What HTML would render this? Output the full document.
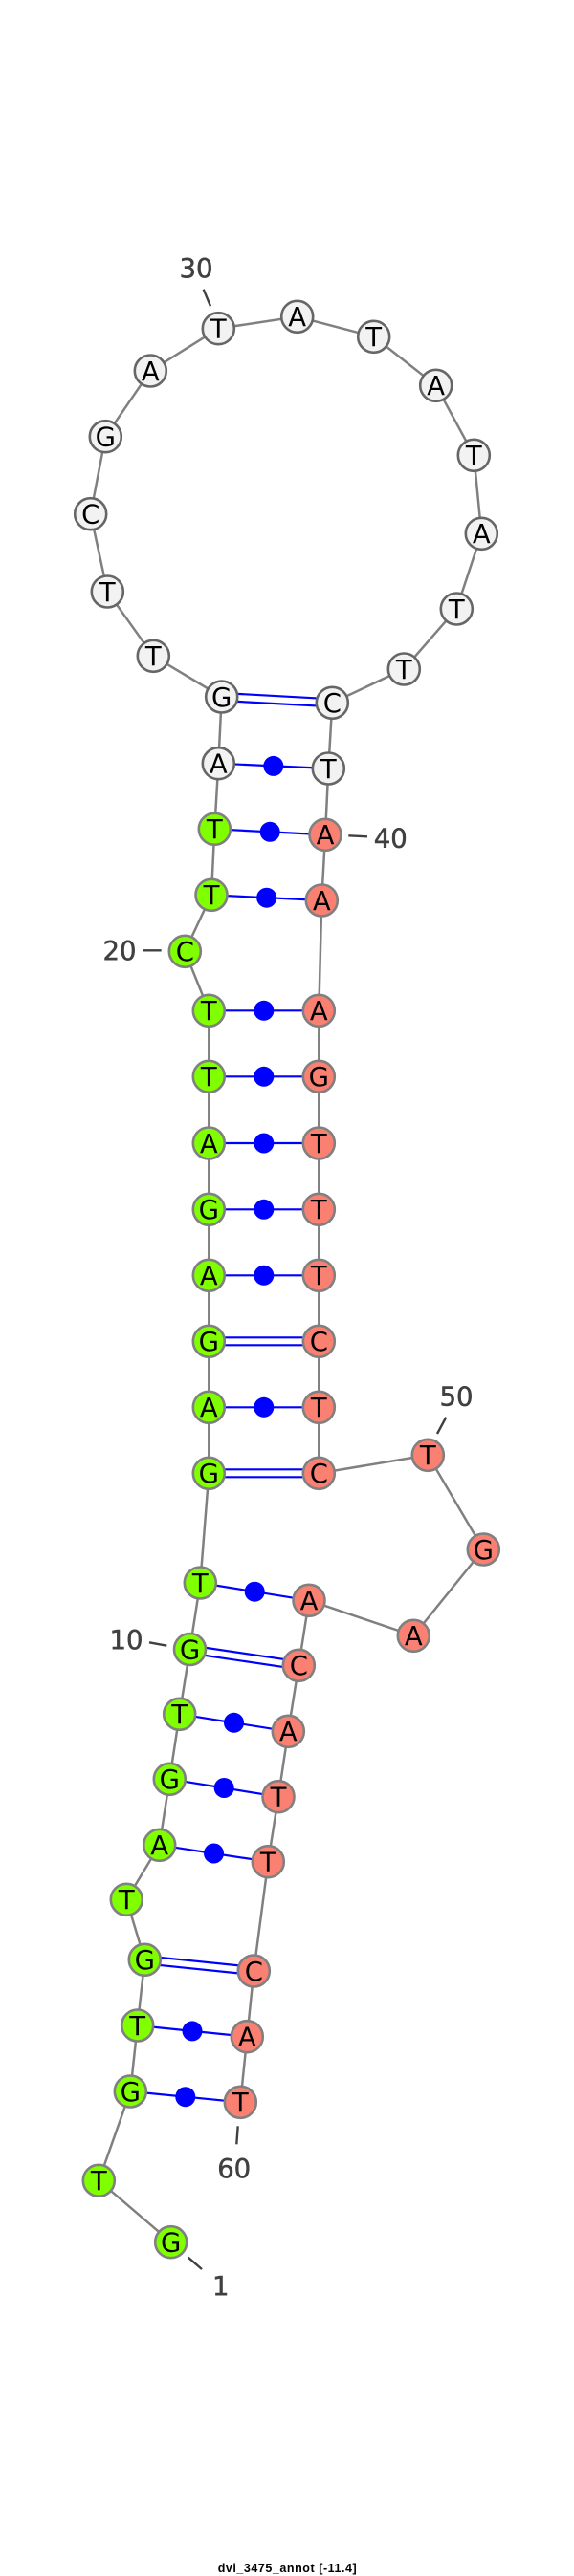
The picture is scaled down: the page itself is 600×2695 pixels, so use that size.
<!DOCTYPE html>
<html>
<head>
<meta charset="utf-8">
<style>
html,body{margin:0;padding:0;background:#fff;}
svg{display:block;}
.w{fill:#f2f2f2;stroke:#666;stroke-width:2.6;}
.g{fill:#7fff00;stroke:#808080;stroke-width:2.6;}
.r{fill:#fa8072;stroke:#808080;stroke-width:2.6;}
.n{font-family:"DejaVu Sans",sans-serif;font-size:27.5px;fill:#000;text-anchor:middle;}
.l{font-family:"DejaVu Sans",sans-serif;font-size:27.5px;fill:#404040;stroke:#404040;stroke-width:.5;text-anchor:middle;}
.t{font-family:"Liberation Sans",sans-serif;font-size:12.5px;font-weight:bold;fill:#000;text-anchor:start;}
</style>
</head>
<body>
<svg xmlns="http://www.w3.org/2000/svg" width="600" height="2695" viewBox="0 0 600 2695">
<rect width="600" height="2695" fill="#fff"/>
<polyline fill="none" stroke="#808080" stroke-width="2.5" points="178.7,2345.7 103.3,2281.3 136.3,2188 143.7,2119 151.3,2050.3 132.3,1987.3 166.7,1930.3 177.3,1861.3 187.7,1793.3 198.5,1725.5 209.3,1656 218.3,1541.3 218.3,1057.3 193.3,995.3 221,936.3 224.3,867.3 228.3,798.7 231.7,729 160.3,686.3 112.3,619 94.7,537.7 110.3,456.7 157.3,388 228.3,343.7 310.7,331.3 390.7,352.3 455.7,403.3 495.3,476.3 503.3,558.3 477.3,637 422.3,700 347.3,735.3 343.3,804 340,873.3 336.3,942 333.3,1057.3 333.3,1541.3 447.3,1522.3 505.3,1621 432.3,1711.3 323,1674.3 312.3,1742.3 301.3,1811.3 291,1879.7 280.3,1947.7 265.3,2062 258.3,2130.7 251.3,2199.3"/>
<g stroke="#0000ff" stroke-width="2.2" fill="none">
<line x1="231.9" y1="725" x2="347.5" y2="731.3"/><line x1="231.5" y1="733" x2="347.1" y2="739.3"/>
<line x1="228.3" y1="798.7" x2="343.3" y2="804"/>
<line x1="224.3" y1="867.3" x2="340" y2="873.3"/>
<line x1="221" y1="936.3" x2="336.3" y2="942"/>
<line x1="218.3" y1="1057.3" x2="333.3" y2="1057.3"/>
<line x1="218.3" y1="1126.3" x2="333.3" y2="1126.3"/>
<line x1="218.3" y1="1196" x2="333.3" y2="1196"/>
<line x1="218.3" y1="1265.3" x2="333.3" y2="1265.3"/>
<line x1="218.3" y1="1334.3" x2="333.3" y2="1334.3"/>
<line x1="218.3" y1="1399.3" x2="333.3" y2="1399.3"/><line x1="218.3" y1="1407.3" x2="333.3" y2="1407.3"/>
<line x1="218.3" y1="1472.3" x2="333.3" y2="1472.3"/>
<line x1="218.3" y1="1537.3" x2="333.3" y2="1537.3"/><line x1="218.3" y1="1545.3" x2="333.3" y2="1545.3"/>
<line x1="209.3" y1="1656" x2="323" y2="1674.3"/>
<line x1="199.1" y1="1721.5" x2="312.9" y2="1738.3"/><line x1="197.9" y1="1729.5" x2="311.7" y2="1746.3"/>
<line x1="187.7" y1="1793.3" x2="301.3" y2="1811.3"/>
<line x1="177.3" y1="1861.3" x2="291" y2="1879.7"/>
<line x1="166.7" y1="1930.3" x2="280.3" y2="1947.7"/>
<line x1="151.7" y1="2046.3" x2="265.7" y2="2058"/><line x1="150.9" y1="2054.3" x2="264.9" y2="2066"/>
<line x1="143.7" y1="2119" x2="258.3" y2="2130.7"/>
<line x1="136.3" y1="2188" x2="251.3" y2="2199.3"/>
</g>
<g fill="#0000ff">
<circle cx="285.8" cy="801.4" r="10.5"/>
<circle cx="282.2" cy="870.3" r="10.5"/>
<circle cx="278.7" cy="939.2" r="10.5"/>
<circle cx="275.8" cy="1057.3" r="10.5"/>
<circle cx="275.8" cy="1126.3" r="10.5"/>
<circle cx="275.8" cy="1196" r="10.5"/>
<circle cx="275.8" cy="1265.3" r="10.5"/>
<circle cx="275.8" cy="1334.3" r="10.5"/>
<circle cx="275.8" cy="1472.3" r="10.5"/>
<circle cx="266.2" cy="1665.2" r="10.5"/>
<circle cx="244.5" cy="1802.3" r="10.5"/>
<circle cx="234.2" cy="1870.5" r="10.5"/>
<circle cx="223.5" cy="1939" r="10.5"/>
<circle cx="201" cy="2124.9" r="10.5"/>
<circle cx="193.8" cy="2193.7" r="10.5"/>
</g>
<g stroke="#404040" stroke-width="2.4" fill="none">
<line x1="212.7" y1="302.7" x2="220" y2="320.3"/>
<line x1="150" y1="994.3" x2="168.7" y2="994.3"/>
<line x1="364.3" y1="874.3" x2="384" y2="875.3"/>
<line x1="466.3" y1="1482.7" x2="457" y2="1500"/>
<line x1="156" y1="1718.3" x2="174.3" y2="1721.7"/>
<line x1="248.7" y1="2224.3" x2="247.3" y2="2243.3"/>
<line x1="196.7" y1="2361.7" x2="211" y2="2374"/>
</g>
<g>
<circle class="g" cx="178.7" cy="2345.7" r="16.5"/><text class="n" x="178.7" y="2355.5">G</text>
<circle class="g" cx="103.3" cy="2281.3" r="16.5"/><text class="n" x="103.3" y="2291.1">T</text>
<circle class="g" cx="136.3" cy="2188" r="16.5"/><text class="n" x="136.3" y="2197.8">G</text>
<circle class="g" cx="143.7" cy="2119" r="16.5"/><text class="n" x="143.7" y="2128.8">T</text>
<circle class="g" cx="151.3" cy="2050.3" r="16.5"/><text class="n" x="151.3" y="2060.1">G</text>
<circle class="g" cx="132.3" cy="1987.3" r="16.5"/><text class="n" x="132.3" y="1997.1">T</text>
<circle class="g" cx="166.7" cy="1930.3" r="16.5"/><text class="n" x="166.7" y="1940.1">A</text>
<circle class="g" cx="177.3" cy="1861.3" r="16.5"/><text class="n" x="177.3" y="1871.1">G</text>
<circle class="g" cx="187.7" cy="1793.3" r="16.5"/><text class="n" x="187.7" y="1803.1">T</text>
<circle class="g" cx="198.5" cy="1725.5" r="16.5"/><text class="n" x="198.5" y="1735.3">G</text>
<circle class="g" cx="209.3" cy="1656" r="16.5"/><text class="n" x="209.3" y="1665.8">T</text>
<circle class="g" cx="218.3" cy="1541.3" r="16.5"/><text class="n" x="218.3" y="1551.1">G</text>
<circle class="g" cx="218.3" cy="1472.3" r="16.5"/><text class="n" x="218.3" y="1482.1">A</text>
<circle class="g" cx="218.3" cy="1403.3" r="16.5"/><text class="n" x="218.3" y="1413.1">G</text>
<circle class="g" cx="218.3" cy="1334.3" r="16.5"/><text class="n" x="218.3" y="1344.1">A</text>
<circle class="g" cx="218.3" cy="1265.3" r="16.5"/><text class="n" x="218.3" y="1275.1">G</text>
<circle class="g" cx="218.3" cy="1196" r="16.5"/><text class="n" x="218.3" y="1205.8">A</text>
<circle class="g" cx="218.3" cy="1126.3" r="16.5"/><text class="n" x="218.3" y="1136.1">T</text>
<circle class="g" cx="218.3" cy="1057.3" r="16.5"/><text class="n" x="218.3" y="1067.1">T</text>
<circle class="g" cx="193.3" cy="995.3" r="16.5"/><text class="n" x="193.3" y="1005.1">C</text>
<circle class="g" cx="221" cy="936.3" r="16.5"/><text class="n" x="221" y="946.1">T</text>
<circle class="g" cx="224.3" cy="867.3" r="16.5"/><text class="n" x="224.3" y="877.1">T</text>
<circle class="w" cx="228.3" cy="798.7" r="16.5"/><text class="n" x="228.3" y="808.5">A</text>
<circle class="w" cx="231.7" cy="729" r="16.5"/><text class="n" x="231.7" y="738.8">G</text>
<circle class="w" cx="160.3" cy="686.3" r="16.5"/><text class="n" x="160.3" y="696.1">T</text>
<circle class="w" cx="112.3" cy="619" r="16.5"/><text class="n" x="112.3" y="628.8">T</text>
<circle class="w" cx="94.7" cy="537.7" r="16.5"/><text class="n" x="94.7" y="547.5">C</text>
<circle class="w" cx="110.3" cy="456.7" r="16.5"/><text class="n" x="110.3" y="466.5">G</text>
<circle class="w" cx="157.3" cy="388" r="16.5"/><text class="n" x="157.3" y="397.8">A</text>
<circle class="w" cx="228.3" cy="343.7" r="16.5"/><text class="n" x="228.3" y="353.5">T</text>
<circle class="w" cx="310.7" cy="331.3" r="16.5"/><text class="n" x="310.7" y="341.1">A</text>
<circle class="w" cx="390.7" cy="352.3" r="16.5"/><text class="n" x="390.7" y="362.1">T</text>
<circle class="w" cx="455.7" cy="403.3" r="16.5"/><text class="n" x="455.7" y="413.1">A</text>
<circle class="w" cx="495.3" cy="476.3" r="16.5"/><text class="n" x="495.3" y="486.1">T</text>
<circle class="w" cx="503.3" cy="558.3" r="16.5"/><text class="n" x="503.3" y="568.1">A</text>
<circle class="w" cx="477.3" cy="637" r="16.5"/><text class="n" x="477.3" y="646.8">T</text>
<circle class="w" cx="422.3" cy="700" r="16.5"/><text class="n" x="422.3" y="709.8">T</text>
<circle class="w" cx="347.3" cy="735.3" r="16.5"/><text class="n" x="347.3" y="745.1">C</text>
<circle class="w" cx="343.3" cy="804" r="16.5"/><text class="n" x="343.3" y="813.8">T</text>
<circle class="r" cx="340" cy="873.3" r="16.5"/><text class="n" x="340" y="883.1">A</text>
<circle class="r" cx="336.3" cy="942" r="16.5"/><text class="n" x="336.3" y="951.8">A</text>
<circle class="r" cx="333.3" cy="1057.3" r="16.5"/><text class="n" x="333.3" y="1067.1">A</text>
<circle class="r" cx="333.3" cy="1126.3" r="16.5"/><text class="n" x="333.3" y="1136.1">G</text>
<circle class="r" cx="333.3" cy="1196" r="16.5"/><text class="n" x="333.3" y="1205.8">T</text>
<circle class="r" cx="333.3" cy="1265.3" r="16.5"/><text class="n" x="333.3" y="1275.1">T</text>
<circle class="r" cx="333.3" cy="1334.3" r="16.5"/><text class="n" x="333.3" y="1344.1">T</text>
<circle class="r" cx="333.3" cy="1403.3" r="16.5"/><text class="n" x="333.3" y="1413.1">C</text>
<circle class="r" cx="333.3" cy="1472.3" r="16.5"/><text class="n" x="333.3" y="1482.1">T</text>
<circle class="r" cx="333.3" cy="1541.3" r="16.5"/><text class="n" x="333.3" y="1551.1">C</text>
<circle class="r" cx="447.3" cy="1522.3" r="16.5"/><text class="n" x="447.3" y="1532.1">T</text>
<circle class="r" cx="505.3" cy="1621" r="16.5"/><text class="n" x="505.3" y="1630.8">G</text>
<circle class="r" cx="432.3" cy="1711.3" r="16.5"/><text class="n" x="432.3" y="1721.1">A</text>
<circle class="r" cx="323" cy="1674.3" r="16.5"/><text class="n" x="323" y="1684.1">A</text>
<circle class="r" cx="312.3" cy="1742.3" r="16.5"/><text class="n" x="312.3" y="1752.1">C</text>
<circle class="r" cx="301.3" cy="1811.3" r="16.5"/><text class="n" x="301.3" y="1821.1">A</text>
<circle class="r" cx="291" cy="1879.7" r="16.5"/><text class="n" x="291" y="1889.5">T</text>
<circle class="r" cx="280.3" cy="1947.7" r="16.5"/><text class="n" x="280.3" y="1957.5">T</text>
<circle class="r" cx="265.3" cy="2062" r="16.5"/><text class="n" x="265.3" y="2071.8">C</text>
<circle class="r" cx="258.3" cy="2130.7" r="16.5"/><text class="n" x="258.3" y="2140.5">A</text>
<circle class="r" cx="251.3" cy="2199.3" r="16.5"/><text class="n" x="251.3" y="2209.1">T</text>
</g>
<text class="l" x="205" y="290">30</text>
<text class="l" x="125" y="1004">20</text>
<text class="l" x="408.3" y="886.5">40</text>
<text class="l" x="477" y="1470.5">50</text>
<text class="l" x="132" y="1725">10</text>
<text class="l" x="244.7" y="2278">60</text>
<text class="l" x="230.7" y="2401">1</text>
<text class="t" x="227.7" y="2691" textLength="145" lengthAdjust="spacing">dvi_3475_annot [-11.4]</text>
</svg>
</body>
</html>
